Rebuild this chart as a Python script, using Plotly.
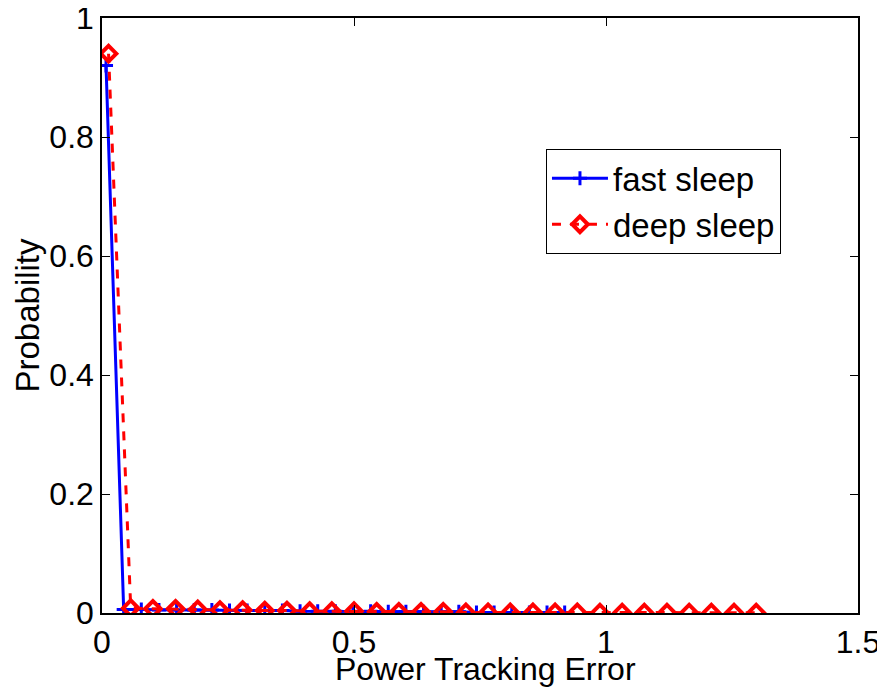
import plotly.graph_objects as go

fast_x = [0.008, 0.043, 0.078, 0.113, 0.148, 0.183, 0.218, 0.253, 0.288, 0.323, 0.358, 0.393, 0.428, 0.463,
          0.498, 0.533, 0.568, 0.603, 0.638, 0.673, 0.708, 0.743, 0.778, 0.813, 0.848, 0.883, 0.918]
fast_y = [0.92, 0.006, 0.006, 0.005, 0.005, 0.005, 0.005, 0.004, 0.004, 0.004, 0.004, 0.003, 0.003, 0.003,
          0.003, 0.003, 0.002, 0.002, 0.002, 0.002, 0.002, 0.001, 0.001, 0.001, 0.001, 0.001, 0.001]

deep_x = [0.013, 0.057, 0.101, 0.146, 0.190, 0.234, 0.279, 0.323, 0.367, 0.412, 0.456, 0.500, 0.545, 0.589,
          0.633, 0.677, 0.722, 0.766, 0.810, 0.855, 0.899, 0.943, 0.988, 1.032, 1.076, 1.121, 1.165, 1.209,
          1.254, 1.298]
deep_y = [0.94, 0.008, 0.007, 0.007, 0.006, 0.005, 0.005, 0.004, 0.004, 0.003, 0.003, 0.003, 0.002, 0.002,
          0.002, 0.002, 0.001, 0.001, 0.001, 0.001, 0.001, 0.001, 0.0005, 0.0005, 0.0005, 0.0005, 0.0005,
          0.0005, 0.0005, 0.0005]

x_ticks = [0, 0.5, 1, 1.5]
x_labels = ["0", "0.5", "1", "1.5"]
y_ticks = [0, 0.2, 0.4, 0.6, 0.8, 1]
y_labels = ["0", "0.2", "0.4", "0.6", "0.8", "1"]

x_title = "Power Tracking Error"
y_title = "Probability"

fig = go.Figure()
fig.add_trace(go.Scatter(
    x=fast_x, y=fast_y, name="fast sleep", mode="lines+markers",
    line=dict(color="#0000ff", width=3),
    marker=dict(symbol="cross-thin", size=10, line=dict(color="#0000ff", width=3)),
))
fig.add_trace(go.Scatter(
    x=deep_x, y=deep_y, name="deep sleep", mode="lines+markers",
    line=dict(color="#ff0000", width=3, dash="dash"),
    marker=dict(symbol="diamond-open", size=12, line=dict(color="#ff0000", width=4)),
))

font_family = "Liberation Sans, Arial, sans-serif"
axis_common = dict(
    showline=True, linecolor="black", linewidth=1.5, mirror="ticks",
    ticks="inside", ticklen=8, tickwidth=1, tickcolor="black",
    showgrid=False, zeroline=False, automargin=False, ticklabeloverflow="allow",
    tickfont=dict(family=font_family, size=32, color="black"),
)
fig.update_layout(
    width=885, height=688,
    margin=dict(l=94, r=35, t=10, b=83),
    paper_bgcolor="white", plot_bgcolor="white",
    font=dict(family=font_family, color="black"),
    showlegend=True,
    legend=dict(
        x=0.587, y=0.7795, xanchor="left", yanchor="top",
        bordercolor="black", borderwidth=1.2, bgcolor="white",
        font=dict(family=font_family, size=33, color="black"),
        tracegroupgap=0, itemwidth=56,
    ),
)
fig.update_xaxes(range=[0, 1.5], tickvals=x_ticks, ticktext=x_labels, **axis_common)
fig.update_yaxes(range=[0, 1], tickvals=y_ticks, ticktext=y_labels,
                 title=dict(text=y_title, font=dict(family=font_family, size=33), standoff=0),
                 **axis_common)
fig.add_annotation(
    text=x_title, xref="paper", yref="paper", x=0.5, y=0,
    xanchor="center", yanchor="middle", xshift=5, yshift=-56, showarrow=False,
    font=dict(family=font_family, size=32, color="black"),
)

fig.write_html("out.html")
